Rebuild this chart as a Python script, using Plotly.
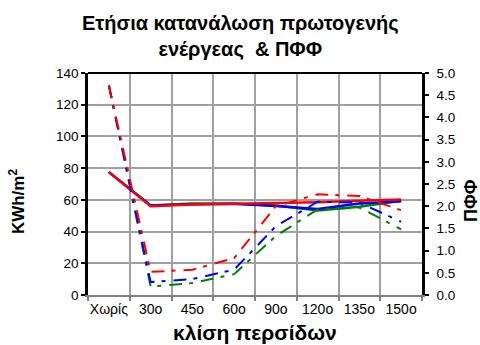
import plotly.graph_objects as go

# Blind tilt categories
categories = ["Χωρίς", "30ο", "45ο", "60ο", "90ο", "120ο", "135ο", "150ο"]

# Annual primary energy consumption (kWh/m²), left axis
energy_red = [77.5, 56.0, 57.0, 57.5, 58.0, 58.5, 59.5, 60.3]
energy_blue = [77.5, 56.5, 57.3, 57.5, 56.2, 54.2, 57.7, 59.2]
energy_green = [77.5, 56.5, 57.7, 57.5, 56.5, 53.3, 55.6, 59.4]

# ΠΦΦ values, right axis
pff_red = [4.72, 0.52, 0.57, 0.83, 2.00, 2.27, 2.23, 1.91]
pff_blue = [4.72, 0.29, 0.36, 0.57, 1.55, 2.10, 2.08, 1.65]
pff_green = [4.72, 0.19, 0.27, 0.47, 1.33, 1.93, 1.97, 1.48]

y_ticks_left = [0, 20, 40, 60, 80, 100, 120, 140]
y_ticks_right = [0.0, 0.5, 1.0, 1.5, 2.0, 2.5, 3.0, 3.5, 4.0, 4.5, 5.0]

FONT = "Liberation Sans, Arial, sans-serif"
DASH = "13px,7px,4px,8px"

fig = go.Figure()

for vals, col in [(pff_green, "#008000"), (pff_blue, "#0000FF"), (pff_red, "#FF0000")]:
    fig.add_trace(go.Scatter(x=categories, y=vals, mode="lines", yaxis="y2",
                             line=dict(color=col, width=2, dash=DASH)))

for vals, col in [(energy_green, "#008000"), (energy_blue, "#0000FF"), (energy_red, "#FF0000")]:
    fig.add_trace(go.Scatter(x=categories, y=vals, mode="lines", yaxis="y",
                             line=dict(color=col, width=2.5)))

fig.update_layout(
    width=480, height=345,
    margin=dict(l=88, r=58, t=73, b=50),
    paper_bgcolor="white", plot_bgcolor="white",
    showlegend=False,
    font=dict(family=FONT, size=13, color="black"),
    xaxis=dict(type="category", categoryorder="array", categoryarray=categories,
               range=[-0.5, 7.5], tickson="boundaries", tickangle=0,
               showgrid=True, gridcolor="#a0a0a0", gridwidth=1.5,
               showline=True, linecolor="#808080", linewidth=2,
               ticks="outside", ticklen=4, tickcolor="#808080", tickwidth=1.5,
               tickfont=dict(size=14), zeroline=False),
    yaxis=dict(range=[0, 140], tickvals=y_ticks_left,
               showgrid=True, gridcolor="#a0a0a0", gridwidth=1.5,
               showline=True, linecolor="black", linewidth=2.5,
               ticks="outside", ticklen=4, tickcolor="black", tickwidth=1.5,
               tickfont=dict(size=13.5), zeroline=False),
    yaxis2=dict(range=[0, 5], tickvals=y_ticks_right, tickformat=".1f",
                overlaying="y", side="right", showgrid=False,
                showline=True, linecolor="black", linewidth=2.5,
                ticks="outside", ticklen=4, tickcolor="black", tickwidth=1.5,
                ticklabelstandoff=5,
                tickfont=dict(size=13.5), zeroline=False),
    shapes=[dict(type="line", xref="paper", yref="paper", x0=0, x1=1, y0=1, y1=1,
                 line=dict(color="black", width=2))],
    annotations=[
        dict(text="<b>Ετήσια κατανάλωση πρωτογενής<br>ενέργεας  & ΠΦΦ</b>",
             xref="paper", yref="paper", x=(240 - 88) / 334, y=1.168,
             xanchor="center", yanchor="middle", showarrow=False,
             font=dict(size=20)),
        dict(text="<b>κλίση περσίδων</b>", xref="paper", yref="paper",
             x=0.5, y=-0.171, xanchor="center", yanchor="middle",
             showarrow=False, font=dict(size=21)),
        dict(text="<b>KWh/m<sup>2</sup></b>", xref="paper", yref="paper",
             x=-0.2126, y=0.423, xanchor="center", yanchor="middle",
             textangle=-90, showarrow=False, font=dict(size=17)),
        dict(text="<b>ΠΦΦ</b>", xref="paper", yref="paper",
             x=1.1467, y=0.428, xanchor="center", yanchor="middle",
             textangle=-90, showarrow=False, font=dict(size=18)),
    ],
)

fig.write_html("out.html")
